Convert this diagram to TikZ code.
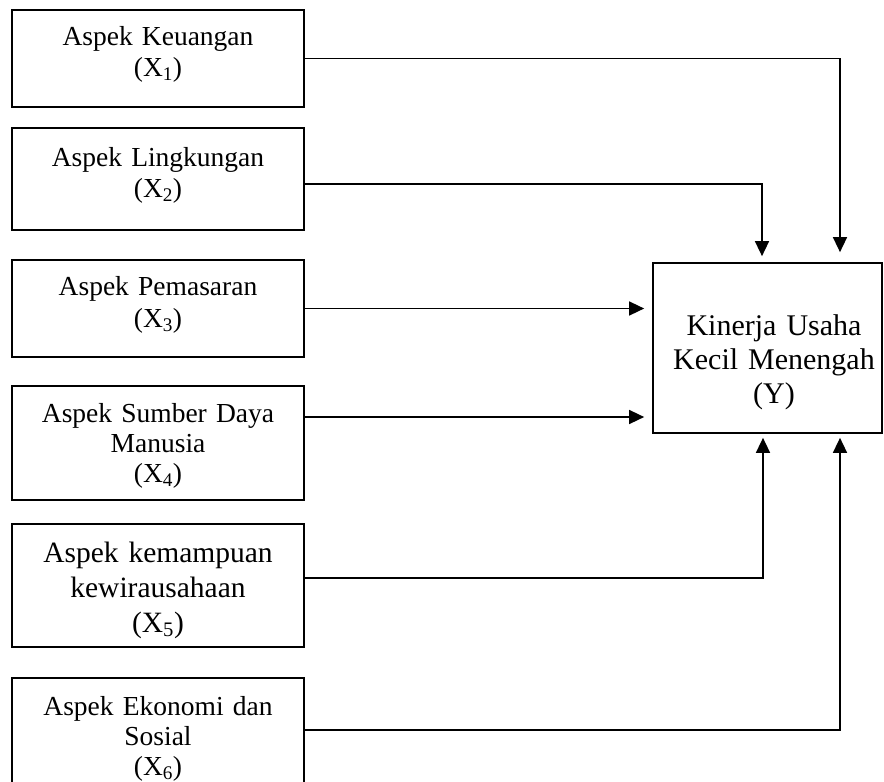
\documentclass[tikz,border=0pt]{standalone}
\usepackage{fontspec}
\setmainfont{Liberation Serif}
\usetikzlibrary{arrows.meta}
\tikzset{
  box/.style={draw=black, line width=1.7pt, rectangle, inner sep=0pt},
  lbl/.style={align=center, text width=290pt, inner sep=0pt, anchor=base},
  arr/.style={draw=black, line width=1.5pt, -{Triangle[length=15pt,width=14pt]}}
}
\begin{document}
\begin{tikzpicture}[x=1pt,y=-1pt]
\useasboundingbox (0,0) rectangle (884,782);
\clip (0,0) rectangle (884,782);
% boxes
\node[box, minimum width=292pt, minimum height=97pt]  (b1) at (158,58.5) {};
\node[box, minimum width=292pt, minimum height=102pt] (b2) at (158,179) {};
\node[box, minimum width=292pt, minimum height=97pt]  (b3) at (158,308.5) {};
\node[box, minimum width=292pt, minimum height=114pt] (b4) at (158,443) {};
\node[box, minimum width=292pt, minimum height=123pt] (b5) at (158,585.5) {};
\node[box, minimum width=292pt, minimum height=124pt] (b6) at (158,740) {};
\node[box, minimum width=229pt, minimum height=170pt] (by) at (767.5,348) {};
% texts
\node[lbl, font=\fontsize{27.5}{31}\selectfont] (t1) at (158,45.7) {Aspek Keuangan\\(X\textsubscript{1})};
\node[lbl, font=\fontsize{27.5}{31}\selectfont] (t2) at (158,166) {Aspek Lingkungan\\(X\textsubscript{2})};
\node[lbl, font=\fontsize{27.5}{32}\selectfont] (t3) at (158,295) {Aspek Pemasaran\\(X\textsubscript{3})};
\node[lbl, font=\fontsize{27.5}{30}\selectfont] (t4) at (158,422) {Aspek Sumber Daya\\Manusia\\(X\textsubscript{4})};
\node[lbl, font=\fontsize{29.5}{35}\selectfont] (t5) at (158,562) {Aspek kemampuan\\kewirausahaan\\(X\textsubscript{5})};
\node[lbl, font=\fontsize{27.5}{30}\selectfont] (t6) at (158,715) {Aspek Ekonomi dan\\Sosial\\(X\textsubscript{6})};
\node[lbl, text width=225pt, font=\fontsize{30}{34}\selectfont] (ty) at (774,335) {Kinerja Usaha\\Kecil Menengah\\(Y)};
% connectors
\draw[arr, shorten >=10pt] (b1.east) -| ([xshift=72.5pt]by.north);
\draw[arr, shorten >=6pt] ([yshift=-5pt]b2.east) -| ([xshift=-5.5pt]by.north);
\draw[arr, shorten >=8pt] (b3.east) -- (by.west |- b3.east);
\coordinate (s4) at ([yshift=26pt]b4.east);
\draw[arr, shorten >=8pt] (s4) -- (by.west |- s4);
\draw[arr, shorten >=4pt] ([yshift=7.5pt]b5.east) -| ([xshift=-4.5pt]by.south);
\draw[arr, shorten >=4pt] ([yshift=10pt]b6.east) -| ([xshift=72.5pt]by.south);
\end{tikzpicture}
\end{document}
